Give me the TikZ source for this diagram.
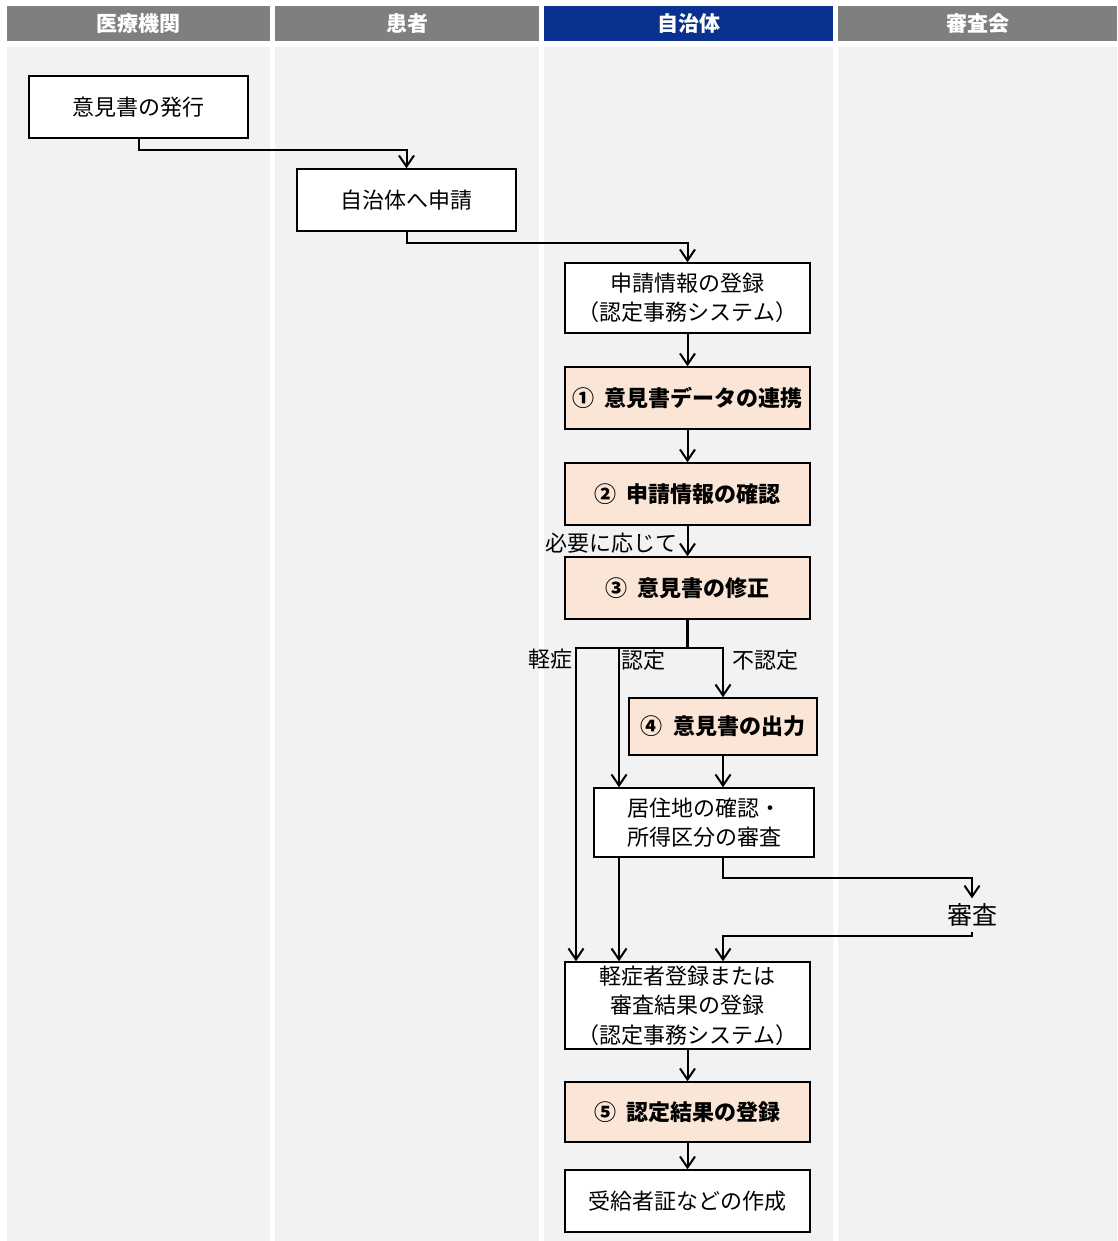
\documentclass[tikz,border=0pt]{standalone}
\usepackage{fontspec}
\setmainfont{Noto Sans CJK JP}
\usetikzlibrary{arrows.meta}
\definecolor{lanegray}{HTML}{F2F2F2}
\definecolor{headgray}{HTML}{7F7F7F}
\definecolor{headblue}{HTML}{0B318F}
\definecolor{peach}{HTML}{FBE5D6}
\begin{document}
\begin{tikzpicture}[
x=1pt,y=-1pt,
font=\fontsize{22}{29.5}\selectfont
]

\tikzstyle{hd} = [fill=headgray, text=white, font=\fontsize{21}{24}\selectfont\bfseries, minimum height=35, inner sep=0]
\tikzstyle{b} = [draw, line width=1.5pt, fill=white, minimum width=219, minimum height=62, align=center, inner sep=0]
\tikzstyle{s} = [b, fill=peach, minimum width=245, font=\fontsize{22}{29.5}\selectfont\bfseries]
\tikzstyle{lb} = [inner sep=1]
\tikzstyle{ar} = [-{Straight Barb[length=11pt,width=15pt]}, line width=2pt]

\useasboundingbox (0,0) rectangle (1117,1241);

\fill[lanegray] (7,47) rectangle (270,1241);
\fill[lanegray] (275,47) rectangle (539,1241);
\fill[lanegray] (544,47) rectangle (833,1241);
\fill[lanegray] (838,47) rectangle (1117,1241);

\node[hd, minimum width=263] (h1) at (138.5,23.5) {医療機関};
\node[hd, minimum width=264] (h2) at (407,23.5) {患者};
\node[hd, minimum width=289, fill=headblue] (h3) at (688.5,23.5) {自治体};
\node[hd, minimum width=279] (h4) at (977.5,23.5) {審査会};

\node[b] (pub) at (138.5,107) {意見書の発行};
\node[b] (app) at (406.5,200) {自治体へ申請};
\node[b, minimum width=245, minimum height=70] (reg1) at (687.5,298) {申請情報の登録\\（認定事務システム）};
\node[s] (s1) at (687.5,398) {①\ \ 意見書データの連携};
\node[s] (s2) at (687.5,494) {②\ \ 申請情報の確認};
\node[s] (s3) at (687.5,588) {③\ \ 意見書の修正};
\node[s, minimum width=188, minimum height=57] (s4) at (723,726.5) {④\ \ 意見書の出力};
\node[b, minimum width=220, minimum height=69] (chk) at (704,822.5) {居住地の確認・\\所得区分の審査};
\node[font=\fontsize{25}{28}\selectfont, inner xsep=0, inner ysep=5] (rev) at (972,915) {審査};
\node[b, minimum width=245, minimum height=87] (reg2) at (687.5,1005.5) {軽症者登録または\\審査結果の登録\\（認定事務システム）};
\node[s, minimum height=60] (s5) at (687.5,1112) {⑤\ \ 認定結果の登録};
\node[b, minimum width=245] (card) at (687.5,1201) {受給者証などの作成};

\node[lb, anchor=east] (need) at (679,543) {必要に応じて};
\node[lb, anchor=east] (mild) at (574,659) {軽症};
\node[lb, anchor=west] (cert) at (620,660) {認定};
\node[lb, anchor=west] (ncert) at (731,660) {不認定};

\coordinate (kx) at (576,0);
\coordinate (nx) at (619,0);

\draw[ar] (pub.south) -- ++(0,11) -| (app.north);
\draw[ar] (app.south) -- ++(0,11) -| (reg1.north);
\draw[ar] (reg1) -- (s1);
\draw[ar] (s1) -- (s2);
\draw[ar] (s2) -- (s3);
\draw[line width=3pt] (s3.south) -- ++(0,28);
\draw[ar] (s3.south) -- ++(0,28) -| (reg2.north -| kx);
\draw[ar] (s3.south) -- ++(0,28) -| (chk.north -| nx);
\draw[ar] (s3.south) -- ++(0,28) -| (s4.north);
\draw[ar] (s4.south) -- (chk.north -| s4.south);
\draw[ar] (chk.south -| nx) -- (reg2.north -| nx);
\draw[ar] (chk.south -| s4.south) -- ++(0,20) -| (rev.north);
\draw[ar] (rev.south) -- ++(0,4) -| (reg2.north -| s4.south);
\draw[ar] (reg2) -- (s5);
\draw[ar] (s5) -- (card);
\end{tikzpicture}
\end{document}
